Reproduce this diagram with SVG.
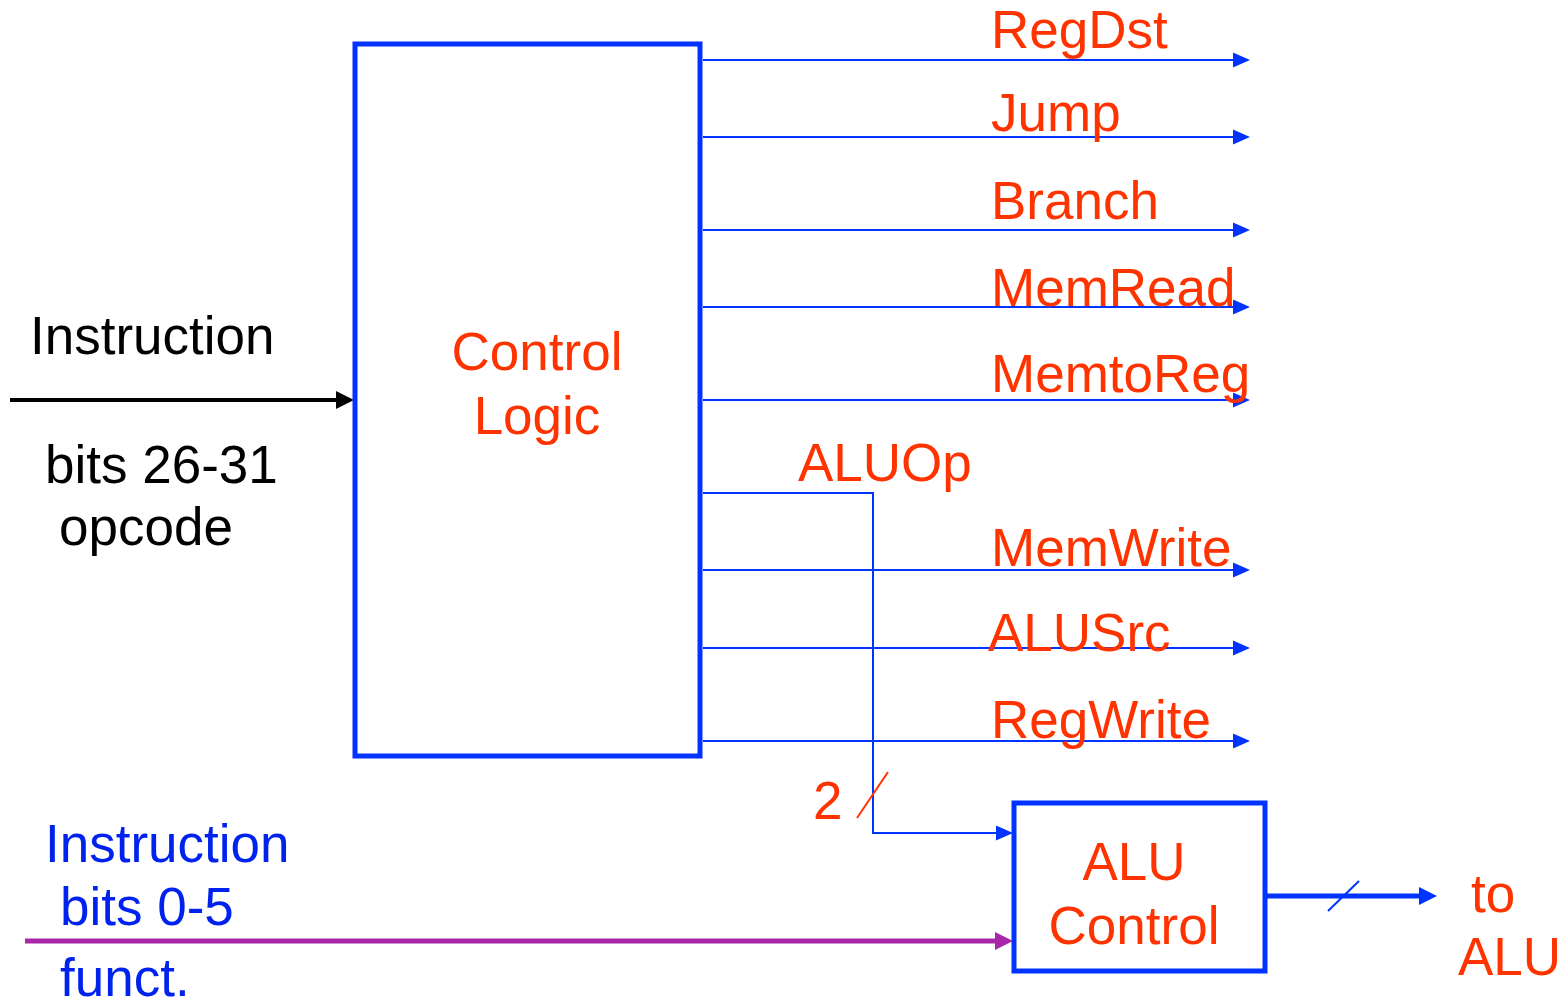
<svg xmlns="http://www.w3.org/2000/svg" width="1568" height="1004" viewBox="0 0 1568 1004">
<style>
text{font-family:"Liberation Sans",Arial,sans-serif;font-size:53px}
.r{fill:#FF3300}
.k{fill:#000}
.b{fill:#0022EE}
.sig{stroke:#0033FF;stroke-width:2;fill:none}
.box{fill:#fff;stroke:#0033FF;stroke-width:5}
.ah{fill:#0033FF}
</style>
<defs>
<path id="head" d="M-17,-7.5L0,0L-17,7.5z"/>
<path id="headL" d="M-18,-9L0,0L-18,9z"/>
</defs>
<g id="connectors">
<line x1="10" y1="400" x2="340" y2="400" stroke="#000" stroke-width="4"/>
<use href="#headL" x="354" y="400" fill="#000"/>
<line x1="25" y1="941" x2="1000" y2="941" stroke="#A826A8" stroke-width="5"/>
<use href="#headL" x="1013" y="941" fill="#A826A8"/>
<line class="sig" x1="703" y1="60" x2="1236" y2="60"/>
<use href="#head" class="ah" x="1250" y="60"/>
<line class="sig" x1="703" y1="137" x2="1236" y2="137"/>
<use href="#head" class="ah" x="1250" y="137"/>
<line class="sig" x1="703" y1="230" x2="1236" y2="230"/>
<use href="#head" class="ah" x="1250" y="230"/>
<line class="sig" x1="703" y1="307" x2="1236" y2="307"/>
<use href="#head" class="ah" x="1250" y="307"/>
<line class="sig" x1="703" y1="400" x2="1236" y2="400"/>
<use href="#head" class="ah" x="1250" y="400"/>
<line class="sig" x1="703" y1="570" x2="1236" y2="570"/>
<use href="#head" class="ah" x="1250" y="570"/>
<line class="sig" x1="703" y1="648" x2="1236" y2="648"/>
<use href="#head" class="ah" x="1250" y="648"/>
<line class="sig" x1="703" y1="741" x2="1236" y2="741"/>
<use href="#head" class="ah" x="1250" y="741"/>
<polyline class="sig" points="703,493 873,493 873,833 1000,833"/>
<use href="#head" class="ah" x="1013" y="833"/>
<line x1="857" y1="818" x2="888" y2="772" stroke="#FF3300" stroke-width="2"/>
<line x1="1266" y1="896" x2="1422" y2="896" stroke="#0033FF" stroke-width="5"/>
<use href="#headL" class="ah" x="1437" y="896"/>
<line x1="1328" y1="911" x2="1359" y2="881" stroke="#0033FF" stroke-width="2"/>
</g>
<g id="control-logic">
<rect class="box" x="355" y="44" width="345" height="712"/>
<text class="r" x="537" y="370" text-anchor="middle">Control</text>
<text class="r" x="537" y="434" text-anchor="middle">Logic</text>
</g>
<g id="alu-control">
<rect class="box" x="1014" y="803" width="251" height="168"/>
<text class="r" x="1134" y="880" text-anchor="middle">ALU</text>
<text class="r" x="1134" y="944" text-anchor="middle">Control</text>
</g>
<g id="labels">
<text class="k" x="30" y="354">Instruction</text>
<text class="k" x="45" y="483">bits 26-31</text>
<text class="k" x="59" y="545">opcode</text>
<text class="b" x="45" y="862">Instruction</text>
<text class="b" x="60" y="925">bits 0-5</text>
<text class="b" x="60" y="996">funct.</text>
<text class="r" x="991" y="48">RegDst</text>
<text class="r" x="991" y="131">Jump</text>
<text class="r" x="991" y="219">Branch</text>
<text class="r" x="991" y="306">MemRead</text>
<text class="r" x="991" y="392">MemtoReg</text>
<text class="r" x="798" y="481">ALUOp</text>
<text class="r" x="991" y="566">MemWrite</text>
<text class="r" x="988" y="651">ALUSrc</text>
<text class="r" x="991" y="738">RegWrite</text>
<text class="r" x="813" y="819">2</text>
<text class="r" x="1471" y="912">to</text>
<text class="r" x="1458" y="975">ALU</text>
</g>
</svg>
